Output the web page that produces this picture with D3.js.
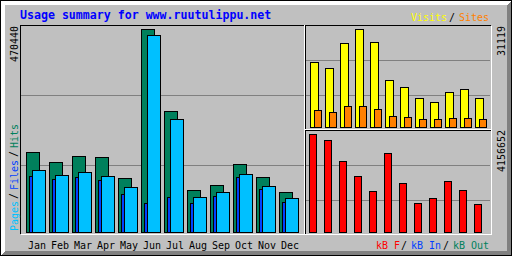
<!DOCTYPE html>
<html>
<head>
<script src="https://d3js.org/d3.v7.min.js"></script>
<style>
  body { margin: 0; background: #c0c0c0; }
  svg { display: block; }
  text { font-family: "DejaVu Sans Mono", monospace; font-size: 10px; }
</style>
</head>
<body>
<div id="chart"></div>
<script>
// data
var months = ["Jan", "Feb", "Mar", "Apr", "May", "Jun", "Jul", "Aug", "Sep", "Oct", "Nov", "Dec"];
var hits   = [184700, 161500, 175400, 173100, 124400, 470440, 279700, 96600, 108200, 156900, 126800, 92000];
var files  = [129800, 122800, 127500, 120500, 88100, 67200, 81100, 67200, 83400, 127500, 99600, 69500];
var pages  = [143000, 131400, 138300, 129100, 103600, 456500, 261900, 80400, 92000, 133700, 105900, 78100];
var visits = [20540, 18640, 26580, 31119, 26900, 14830, 12610, 9110, 7840, 11020, 11970, 9110];
var sites  = [5400, 4670, 6570, 6570, 5620, 3400, 3080, 2450, 2450, 2760, 2760, 2450];
var kbytes = [4156652, 3889000, 2999000, 2362000, 1726000, 3338000, 2066000, 1217000, 1429000, 2150000, 1769000, 1175000];
var title = "Usage summary for www.ruutulippu.net";

var W = 512, H = 256;
var black = "#000", white = "#fff", grey = "#c0c0c0", dkgrey = "#808080";
var hitColor = "#00805c", fileColor = "#0040ff", pageColor = "#00c0ff",
    visitColor = "#ffff00", siteColor = "#ff8000", kbColor = "#ff0000";

var svg = d3.select("#chart").append("svg")
    .attr("width", W).attr("height", H)
    .attr("shape-rendering", "crispEdges");

svg.append("rect").attr("width", W).attr("height", H).attr("fill", grey);

// pixel helpers (gd style inclusive coordinates)
function hline(x1, x2, y, c) {
    svg.append("rect").attr("x", x1).attr("y", y).attr("width", x2 - x1 + 1).attr("height", 1).attr("fill", c);
}
function vline(x, y1, y2, c) {
    svg.append("rect").attr("x", x).attr("y", y1).attr("width", 1).attr("height", y2 - y1 + 1).attr("fill", c);
}

// raised border
for (var i = 0; i < 5; i++) {
    hline(i, W - i - 1, i, white);
    vline(i, i, H - i - 1, white);
    hline(i + 1, W - i - 1, H - i - 1, dkgrey);
    vline(W - i - 1, i + 1, H - i - 1, dkgrey);
}
hline(0, W - 1, 0, black); hline(0, W - 1, H - 1, black);
vline(0, 0, H - 1, black); vline(W - 1, 0, H - 1, black);

// inner sunken panel
hline(20, 490, 25, black); vline(20, 25, 233, black);
hline(21, 491, 234, white); vline(491, 26, 234, white);

// section lines
vline(305, 25, 233, black); vline(304, 25, 233, white);
hline(305, 490, 130, black); hline(305, 490, 129, white);

// index lines
[95, 165].forEach(function(y) { hline(21, 303, y, dkgrey); });
[60, 95, 165, 200].forEach(function(y) { hline(306, 489, y, dkgrey); });

// scales
var xL = d3.scalePoint().domain(months).range([26, 26 + 11 * 23]);
var xR = d3.scalePoint().domain(months).range([310, 310 + 11 * 15]);
var yHits = d3.scaleLinear().domain([0, d3.max(hits)]).range([232, 29]);
var yVisits = d3.scaleLinear().domain([0, d3.max(visits)]).range([127, 29]);
var yKB = d3.scaleLinear().domain([0, d3.max(kbytes)]).range([232, 134]);

function bars(data, xs, dx, w, ys, color) {
    svg.append("g").selectAll("rect")
        .data(data)
        .enter()
        .append("rect")
            .attr("x", function(d, i) { return xs(months[i]) + dx + 0.5; })
            .attr("y", function(d) { return Math.round(ys(d)) + 0.5; })
            .attr("width", w)
            .attr("height", function(d) { return ys(0) - Math.round(ys(d)); })
            .attr("fill", color)
            .attr("stroke", black)
            .attr("stroke-width", 1);
}

bars(hits, xL, 0, 13, yHits, hitColor);
bars(files, xL, 3, 13, yHits, fileColor);
bars(pages, xL, 6, 13, yHits, pageColor);
bars(visits, xR, 0, 8, yVisits, visitColor);
bars(sites, xR, 4, 7, yVisits, siteColor);
bars(kbytes, xR, -1, 7, yKB, kbColor);

// title
svg.append("text")
    .attr("x", 20).attr("y", 19)
    .attr("fill", "#0000ff")
    .style("font-size", "11.6px").style("font-weight", "bold")
    .text(title);

// month labels
svg.selectAll("text.month")
    .data(months)
    .enter()
    .append("text")
        .attr("class", "month")
        .attr("x", function(d) { return xL(d) + 2; })
        .attr("y", 249)
        .attr("fill", black)
        .text(function(d) { return d; });

// horizontal legends
function label(x, y, txt, color) {
    svg.append("text").attr("x", x).attr("y", y).attr("fill", color).text(txt);
}
label(411, 21, "Visits", visitColor);
label(449, 21, "/", black);
label(459, 21, "Sites", siteColor);

label(376, 249, "kB F", kbColor);
label(401, 249, "/", black);
label(411, 249, "kB In", fileColor);
label(443, 249, "/", black);
label(453, 249, "kB Out", hitColor);

// vertical labels
function up(x, y, txt, color) {
    svg.append("text")
        .attr("transform", "translate(" + x + "," + y + ") rotate(-90)")
        .attr("fill", color)
        .text(txt);
}
up(18, 62, String(d3.max(hits)), black);
up(505, 56, String(d3.max(visits)), black);
up(505, 172, String(d3.max(kbytes)), black);

up(18, 231, "Pages", pageColor);
up(17, 199, "/", black);
up(18, 190, "Files", fileColor);
up(17, 157, "/", black);
up(18, 148, "Hits", hitColor);
</script>
</body>
</html>
